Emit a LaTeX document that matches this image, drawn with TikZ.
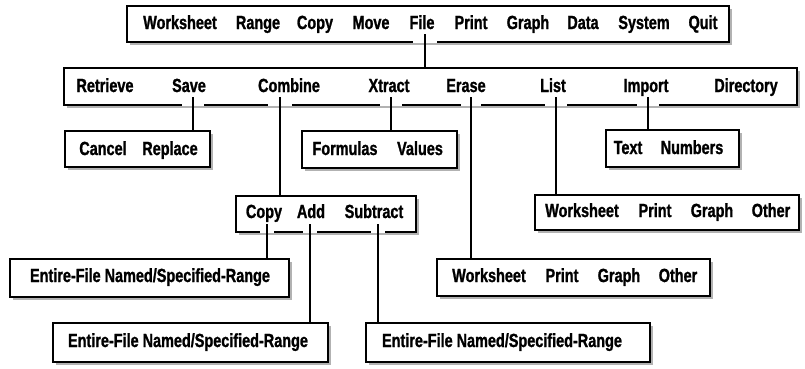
\documentclass[tikz,border=0pt]{standalone}
\usepackage{fontspec}
\setmainfont{Liberation Sans}[FakeStretch=0.76, BoldFeatures={FakeBold=1.2}]
\usetikzlibrary{calc,shadows}
\tikzset{
  box/.style={draw, line width=1.9pt, fill=white, inner sep=0pt, outer sep=0pt, anchor=north west,
    drop shadow={shadow xshift=3pt, shadow yshift=-3pt, fill=black!30, opacity=1}},
  word/.style={inner sep=0pt, anchor=base, font=\fontsize{19}{22}\selectfont\bfseries},
  link/.style={line width=2.2pt},
  gapline/.style={white, line width=2.9pt},
}
\newcommand\mkbox[5]{\node[box, minimum width=#4pt, minimum height=#5pt] (#1) at (#2,#3) {};}
\newcommand\gapat[3]{\draw[gapline] ($(#1 |- #2.south)+(-#3,0)$) -- ($(#1 |- #2.south)+(#3,0)$);}
\newcommand\linkto[3]{\draw[link] ($(#1 |- #2.south)+(0,-8)$) -- (#1 |- #3.north);}
\begin{document}
\begin{tikzpicture}[x=1pt,y=-1pt]
\useasboundingbox (0,0) rectangle (805,368);
% boxes
\mkbox{top}{127}{6}{602}{36}
\mkbox{row2}{64}{68}{733}{37}
\mkbox{cancelbox}{65}{131}{145}{36}
\mkbox{formbox}{302}{131}{155}{37}
\mkbox{textbox}{606}{130}{133}{37}
\mkbox{copybox}{236}{196}{180}{36}
\mkbox{listbox}{535}{195}{264}{35}
\mkbox{erasebox}{437}{259}{273}{37}
\mkbox{efa}{10}{259}{279}{38}
\mkbox{efb}{53}{323}{275}{39}
\mkbox{efc}{366}{323}{284}{39}
% connector x positions
\coordinate (xFile) at (425,0);
\coordinate (xSave) at (193,0);
\coordinate (xCombine) at (280,0);
\coordinate (xXtract) at (391,0);
\coordinate (xErase) at (471,0);
\coordinate (xList) at (556,0);
\coordinate (xImport) at (648,0);
\coordinate (xCopy) at (267,0);
\coordinate (xAdd) at (310,0);
\coordinate (xSub) at (378,0);
% gaps in the bottom edges
\gapat{xFile}{top}{12}
\gapat{xSave}{row2}{11}
\gapat{xCombine}{row2}{12}
\gapat{xXtract}{row2}{11}
\gapat{xErase}{row2}{10}
\gapat{xList}{row2}{11}
\gapat{xImport}{row2}{11}
\gapat{xCopy}{copybox}{7}
\gapat{xAdd}{copybox}{7}
\gapat{xSub}{copybox}{7}
% connectors
\linkto{xFile}{top}{row2}
\linkto{xSave}{row2}{cancelbox}
\linkto{xCombine}{row2}{copybox}
\linkto{xXtract}{row2}{formbox}
\linkto{xErase}{row2}{erasebox}
\linkto{xList}{row2}{listbox}
\linkto{xImport}{row2}{textbox}
\linkto{xCopy}{copybox}{efa}
\linkto{xAdd}{copybox}{efb}
\linkto{xSub}{copybox}{efc}
% top menu
\node[word] (m1) at (180,29) {Worksheet};
\node[word] (m2) at (258,29) {Range};
\node[word] (m3) at (315,29) {Copy};
\node[word] (m4) at (371,29) {Move};
\node[word] (m5) at (422,29) {File};
\node[word] (m6) at (471,29) {Print};
\node[word] (m7) at (528,29) {Graph};
\node[word] (m8) at (583,29) {Data};
\node[word] (m9) at (644,29) {System};
\node[word] (m10) at (703,29) {Quit};
% file menu
\node[word] (f1) at (105,92) {Retrieve};
\node[word] (f2) at (189,92) {Save};
\node[word] (f3) at (289,92) {Combine};
\node[word] (f4) at (389,92) {Xtract};
\node[word] (f5) at (466,92) {Erase};
\node[word] (f6) at (553,92) {List};
\node[word] (f7) at (646,92) {Import};
\node[word] (f8) at (746,92) {Directory};
% save
\node[word] (s1) at (103,155) {Cancel};
\node[word] (s2) at (170,155) {Replace};
% xtract
\node[word] (x1) at (345,155) {Formulas};
\node[word] (x2) at (420,155) {Values};
% import
\node[word] (i1) at (628,154) {Text};
\node[word] (i2) at (692,154) {Numbers};
% combine
\node[word] (c1) at (264,218) {Copy};
\node[word] (c2) at (311,218) {Add};
\node[word] (c3) at (374,218) {Subtract};
% list
\node[word] (l1) at (582,217) {Worksheet};
\node[word] (l2) at (655,217) {Print};
\node[word] (l3) at (712,217) {Graph};
\node[word] (l4) at (771,217) {Other};
% erase
\node[word] (e1) at (489,282) {Worksheet};
\node[word] (e2) at (562,282) {Print};
\node[word] (e3) at (619,282) {Graph};
\node[word] (e4) at (678,282) {Other};
% entire-file rows
\node[word] (r1) at (150,282) {Entire-File Named/Specified-Range};
\node[word] (r2) at (188,347) {Entire-File Named/Specified-Range};
\node[word] (r3) at (502,347) {Entire-File Named/Specified-Range};
\end{tikzpicture}
\end{document}
